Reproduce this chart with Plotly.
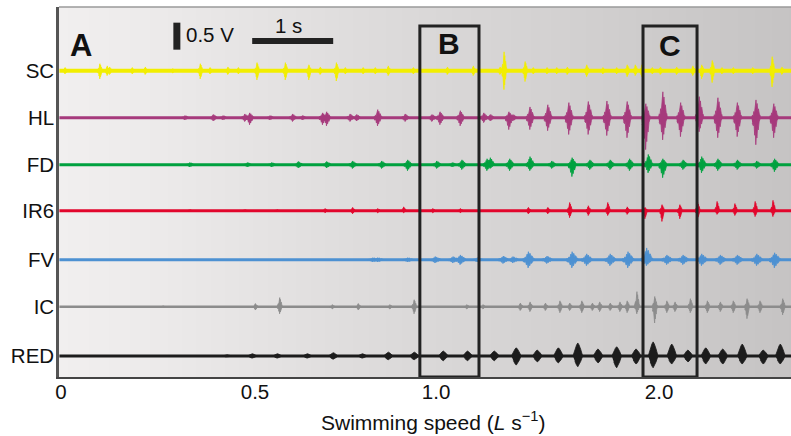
import plotly.graph_objects as go

# ---------------- data ----------------
channels = ["SC", "HL", "FD", "IR6", "FV", "IC", "RED"]
offsets = [5.28, 4.41, 3.54, 2.69, 1.78, 0.91, 0.0]          # V, baseline of each trace
colors = ["#f2ee00", "#a63a7c", "#00a13f", "#e2062c", "#4d91d2", "#8c8c8c", "#1c1c1c"]
line_widths = [4, 3, 3, 3, 3, 2.5, 3]
half_widths = [0.035, 0.055, 0.06, 0.035, 0.08, 0.035, 0.06]   # s, burst half-duration

# bursts: (time s, upward amplitude V, downward amplitude V)
SC_bursts = [(0.05, .06, .06), (0.48, .13, .15), (0.57, .09, .09), (0.60, .07, .07), (0.88, .06, .06),
             (1.04, .07, .07), (1.38, .04, .04), (1.72, .13, .15), (1.84, .06, .06), (2.06, .07, .07),
             (2.19, .06, .06), (2.42, .15, .17), (2.77, .15, .17), (3.06, .11, .17), (3.20, .07, .07),
             (3.40, .15, .19), (3.51, .06, .06), (3.73, .06, .06), (3.88, .06, .06), (4.04, .09, .09),
             (4.35, .06, .06), (4.77, .07, .07), (5.09, .09, .09), (5.42, .07, .07), (5.47, .35, .35),
             (5.73, .17, .20), (5.83, .06, .06), (6.00, .06, .06), (6.12, .06, .06), (6.25, .07, .07),
             (6.49, .11, .11), (6.69, .06, .06), (6.86, .06, .06), (6.99, .11, .11), (7.09, .11, .09),
             (7.17, .11, .11), (7.30, .06, .06), (7.40, .07, .07), (7.60, .07, .07), (7.80, .09, .09),
             (7.91, .11, .15), (8.04, .19, .22), (8.16, .06, .06), (8.30, .06, .06), (8.54, .06, .06),
             (8.78, .26, .30), (8.90, .07, .07)]
HL_bursts = [(1.53, .04, .04), (1.88, .06, .06), (2.00, .04, .04), (2.27, .07, .07), (2.33, .09, .13),
             (2.58, .04, .04), (2.86, .07, .07), (2.98, .04, .04), (3.23, .09, .13), (3.28, .11, .15),
             (3.57, .07, .07), (3.65, .06, .06), (3.91, .15, .15), (4.25, .07, .07), (4.58, .06, .07),
             (4.68, .11, .13), (4.93, .13, .15), (5.22, .09, .09), (5.30, .06, .06), (5.53, .11, .22),
             (5.58, .06, .06), (5.79, .20, .22), (6.01, .24, .24), (6.27, .28, .31), (6.51, .30, .31),
             (6.74, .31, .33), (6.99, .30, .37), (7.22, .26, .59), (7.43, .48, .41), (7.65, .28, .35),
             (7.88, .39, .26), (8.11, .37, .37), (8.35, .28, .35), (8.58, .33, .50), (8.80, .26, .37)]
FD_bursts = [(1.59, .04, .04), (2.30, .04, .04), (2.60, .04, .04), (2.93, .06, .06), (3.28, .06, .06),
             (3.60, .07, .07), (3.96, .07, .07), (4.28, .09, .11), (4.64, .07, .07), (4.83, .04, .04),
             (4.95, .09, .09), (5.26, .11, .11), (5.30, .13, .07), (5.54, .11, .11), (5.79, .15, .11),
             (6.06, .07, .07), (6.31, .13, .22), (6.53, .09, .09), (6.78, .09, .09), (7.02, .11, .11),
             (7.25, .19, .15), (7.43, .11, .24), (7.68, .09, .09), (7.91, .15, .15), (8.11, .11, .11),
             (8.35, .09, .09), (8.59, .07, .07), (8.81, .11, .13)]
IR6_bursts = [(1.59, .02, .02), (2.27, .02, .02), (2.67, .02, .02), (3.26, .04, .04), (3.60, .06, .06),
              (3.91, .04, .04), (4.23, .07, .04), (4.59, .04, .04), (4.93, .04, .04), (5.77, .06, .06),
              (6.01, .06, .06), (6.28, .15, .13), (6.51, .09, .09), (6.75, .15, .09), (6.99, .07, .07),
              (7.21, .06, .15), (7.42, .11, .20), (7.64, .11, .15), (7.86, .15, .15), (8.10, .17, .07),
              (8.32, .13, .09), (8.57, .17, .11), (8.79, .19, .11)]
FV_bursts = [(3.85, .04, .04), (3.91, .04, .04), (4.28, .04, .04), (4.62, .06, .06), (4.84, .06, .06),
             (4.93, .09, .09), (5.14, .04, .04), (5.46, .07, .07), (5.58, .06, .06), (5.77, .15, .15),
             (6.00, .07, .07), (6.31, .15, .15), (6.49, .11, .11), (6.78, .11, .11), (7.00, .15, .15),
             (7.23, .22, .11), (7.48, .09, .09), (7.68, .09, .09), (7.91, .11, .11), (8.14, .09, .09),
             (8.35, .09, .09), (8.59, .11, .11), (8.81, .13, .15)]
IC_bursts = [(1.26, .02, .02), (2.40, .06, .06), (2.70, .17, .13), (3.35, .04, .04), (3.67, .06, .06),
             (4.06, .04, .04), (4.36, .13, .13), (5.01, .04, .04), (5.21, .04, .04), (5.67, .07, .07),
             (5.79, .09, .09), (5.98, .07, .07), (6.16, .11, .11), (6.28, .07, .07), (6.43, .11, .11),
             (6.56, .07, .07), (6.65, .09, .09), (6.78, .07, .07), (6.90, .09, .09), (6.99, .11, .11),
             (7.11, .28, .13), (7.33, .19, .30), (7.48, .11, .11), (7.58, .09, .09), (7.77, .15, .11),
             (7.98, .11, .11), (8.14, .09, .09), (8.30, .11, .11), (8.47, .15, .22), (8.63, .11, .11),
             (8.91, .15, .15)]
RED_bursts = [(2.05, .02, .02), (2.36, .04, .04), (2.67, .04, .04), (3.04, .04, .04), (3.36, .06, .06),
              (3.72, .04, .04), (4.04, .07, .07), (4.36, .07, .07), (4.72, .09, .09), (5.02, .09, .09),
              (5.35, .09, .09), (5.62, .15, .17), (5.88, .11, .11), (6.14, .15, .13), (6.38, .24, .20),
              (6.63, .13, .13), (6.86, .17, .22), (7.10, .13, .15), (7.31, .26, .22), (7.54, .22, .15),
              (7.74, .11, .11), (7.96, .15, .15), (8.17, .13, .15), (8.41, .22, .15), (8.67, .11, .15),
              (8.88, .22, .15)]
all_bursts = [SC_bursts, HL_bursts, FD_bursts, IR6_bursts, FV_bursts, IC_bursts, RED_bursts]

# speed tick labels placed on the time axis
speed_tick_times = [0.0, 2.395, 4.63, 7.383]
speed_tick_labels = ["0", "0.5", "1.0", "2.0"]

# panel boxes (time range s)
box_labels = ["B", "C"]
box_t0 = [4.43, 7.185]
box_t1 = [5.16, 7.852]

# scale bars
volt_bar = 0.5     # V
time_bar = 1.0     # s

# background grey gradient stops (time s, grey level)
bg_t = [-0.3, 1.22, 2.46, 3.69, 4.93, 6.17, 7.40, 9.3]
bg_level = [242, 236, 229, 222, 216, 211, 205, 196]

x_range = [-0.025, 9.012]
y_range = [-0.39, 6.46]
FONT = "Liberation Sans, Arial, Helvetica, sans-serif"

# ---------------- figure ----------------
fig = go.Figure()

n = len(bg_t)
cs = [[i / (n - 1), f"rgb({v},{v-2},{v-2})"] for i, v in enumerate(bg_level)]
fig.add_trace(go.Heatmap(x=bg_t, y=[-1.0, 7.0], z=[list(range(n)), list(range(n))],
                         colorscale=cs, showscale=False, zsmooth="best", hoverinfo="skip"))

# burst outline templates (fraction of half-width, fraction of amplitude)
spike_top = [(-1, 0), (-0.8, 0.15), (-0.65, 0.1), (-0.5, 0.35), (-0.35, 0.25), (-0.2, 0.7),
             (-0.1, 0.5), (0, 1), (0.1, 0.6), (0.25, 0.8), (0.4, 0.4), (0.55, 0.5), (0.75, 0.2),
             (0.9, 0.15), (1, 0)]
spike_bot = [(-1, 0), (-0.85, 0.2), (-0.6, 0.3), (-0.45, 0.2), (-0.3, 0.65), (-0.15, 0.45),
             (-0.05, 1), (0.1, 0.55), (0.2, 0.75), (0.35, 0.35), (0.5, 0.45), (0.7, 0.15), (1, 0)]
drop_top = [(-1, 0), (-0.6, 0.5), (-0.25, 0.85), (0, 1), (0.25, 0.85), (0.6, 0.5), (1, 0)]
drop_bot = drop_top

for name, off, col, lw, hw, bursts in zip(channels, offsets, colors, line_widths, half_widths, all_bursts):
    fig.add_trace(go.Scatter(x=[x_range[0] + 0.005, x_range[1]], y=[off, off], mode="lines",
                             line=dict(color=col, width=lw), hoverinfo="skip", showlegend=False))
    top, bot = (drop_top, drop_bot) if name == "RED" else (spike_top, spike_bot)
    xs, ys = [], []
    for t, up, dn in bursts:
        for fx, fy in top:
            xs.append(t + fx * hw)
            ys.append(off + fy * up)
        for fx, fy in reversed(bot[1:-1]):
            xs.append(t + fx * hw)
            ys.append(off - fy * dn)
        xs.append(None)
        ys.append(None)
    fig.add_trace(go.Scatter(x=xs, y=ys, mode="lines", fill="toself", fillcolor=col,
                             line=dict(color=col, width=0.8), hoverinfo="skip", showlegend=False))

shapes = []
for t0, t1 in zip(box_t0, box_t1):
    shapes.append(dict(type="rect", x0=t0, x1=t1, y0=y_range[0], y1=6.11, xref="x", yref="y",
                       line=dict(color="#222222", width=3)))
# scale bars
shapes.append(dict(type="line", x0=1.43, x1=1.43, y0=5.67, y1=5.67 + volt_bar, xref="x", yref="y",
                   line=dict(color="#222222", width=7)))
shapes.append(dict(type="line", x0=2.36, x1=2.36 + time_bar, y0=5.83, y1=5.83, xref="x", yref="y",
                   line=dict(color="#222222", width=6)))
# top frame line
shapes.append(dict(type="line", x0=0, x1=1, y0=1, y1=1, xref="paper", yref="paper",
                   line=dict(color="#9a9a9a", width=1.5)))

annotations = [
    dict(x=0.25, y=5.74, text="<b>A</b>", showarrow=False, font=dict(size=31, color="#111", family=FONT)),
    dict(x=1.52, y=5.96, text="0.5 V", showarrow=False, xanchor="left",
         font=dict(size=20.5, color="#111", family=FONT)),
    dict(x=2.81, y=6.11, text="1 s", showarrow=False, font=dict(size=20.5, color="#111", family=FONT)),
    dict(x=0.512, y=-0.118, xref="paper", yref="paper", yanchor="middle",
         text="Swimming speed (<i>L</i> s<sup>−1</sup>)", showarrow=False,
         font=dict(size=21, color="#111", family=FONT)),
]
label_y = [5.78, 5.74]
for lab, t0, t1, ly in zip(box_labels, box_t0, box_t1, label_y):
    annotations.append(dict(x=(t0 + t1) / 2, y=ly, text=f"<b>{lab}</b>", showarrow=False,
                            font=dict(size=30, color="#111", family=FONT)))

fig.update_layout(
    width=791, height=436, margin=dict(l=59, r=0, t=7, b=59),
    paper_bgcolor="white", plot_bgcolor="white", showlegend=False,
    shapes=shapes, annotations=annotations,
    font=dict(family=FONT, size=20.5, color="#111"),
    xaxis=dict(range=x_range, tickvals=speed_tick_times, ticktext=speed_tick_labels,
               showgrid=False, zeroline=False, ticks="", showline=True, linecolor="#444",
               linewidth=2, ticklabelstandoff=-5, tickfont=dict(size=20.5)),
    yaxis=dict(range=y_range, tickvals=offsets, ticktext=channels, showgrid=False,
               zeroline=False, ticks="", showline=True, linecolor="#555", linewidth=2.5,
               ticklabelstandoff=-2, tickfont=dict(size=20.5)),
)

fig.write_html("out.html")
